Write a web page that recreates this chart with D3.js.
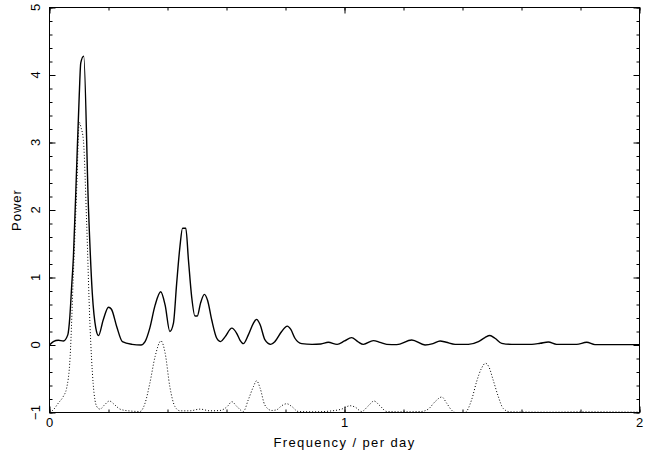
<!DOCTYPE html>
<html>
<head>
<meta charset="utf-8">
<script src="https://cdn.jsdelivr.net/npm/d3@7"></script>
<style>
  body { margin: 0; background: #fff; }
  text { font-family: "Liberation Sans", Arial, sans-serif; fill: #000; }
</style>
</head>
<body>
<svg id="chart" width="657" height="460"></svg>
<script>
// periodogram (solid) - frequency and power
const powerFreq = [0, 0.013, 0.03, 0.047, 0.062, 0.069, 0.075, 0.081, 0.092, 0.101, 0.106, 0.116, 0.132, 0.145, 0.157, 0.166, 0.182, 0.2, 0.21, 0.228, 0.247, 0.28, 0.31, 0.324, 0.34, 0.358, 0.377, 0.392, 0.408, 0.42, 0.431, 0.442, 0.451, 0.462, 0.471, 0.482, 0.493, 0.501, 0.512, 0.525, 0.536, 0.55, 0.567, 0.58, 0.595, 0.618, 0.635, 0.646, 0.657, 0.674, 0.691, 0.702, 0.714, 0.73, 0.75, 0.764, 0.787, 0.806, 0.818, 0.832, 0.855, 0.89, 0.92, 0.945, 0.975, 1.0, 1.024, 1.045, 1.064, 1.098, 1.12, 1.143, 1.177, 1.228, 1.273, 1.3, 1.324, 1.345, 1.375, 1.42, 1.454, 1.476, 1.493, 1.51, 1.533, 1.567, 1.635, 1.663, 1.691, 1.719, 1.787, 1.821, 1.849, 1.9, 2.0];
const powerVals = [0, 0.05, 0.07, 0.06, 0.15, 0.42, 0.86, 1.3, 2.63, 3.72, 4.18, 4.28, 2.04, 0.77, 0.25, 0.14, 0.37, 0.56, 0.53, 0.27, 0.05, 0.01, 0.0, 0.05, 0.25, 0.59, 0.79, 0.59, 0.2, 0.32, 0.91, 1.45, 1.73, 1.73, 1.26, 0.71, 0.43, 0.43, 0.62, 0.75, 0.66, 0.37, 0.1, 0.05, 0.12, 0.25, 0.17, 0.07, 0.02, 0.15, 0.32, 0.38, 0.3, 0.08, 0.01, 0.05, 0.2, 0.28, 0.23, 0.1, 0.02, 0.01, 0.015, 0.04, 0.01, 0.06, 0.11, 0.05, 0.01, 0.065, 0.04, 0.01, 0.005, 0.075, 0.0, 0.02, 0.06, 0.04, 0.01, 0.01, 0.05, 0.11, 0.14, 0.1, 0.025, 0.01, 0.01, 0.025, 0.045, 0.01, 0.01, 0.04, 0.005, 0.005, 0.005];

// window function (dotted), drawn offset down by one unit
const windowFreq = [0, 0.013, 0.03, 0.047, 0.058, 0.07, 0.081, 0.092, 0.101, 0.107, 0.115, 0.126, 0.137, 0.148, 0.16, 0.171, 0.186, 0.203, 0.222, 0.239, 0.267, 0.307, 0.324, 0.34, 0.358, 0.378, 0.392, 0.408, 0.425, 0.442, 0.476, 0.51, 0.544, 0.578, 0.603, 0.618, 0.635, 0.657, 0.674, 0.691, 0.702, 0.714, 0.73, 0.753, 0.77, 0.787, 0.804, 0.821, 0.843, 0.9, 0.968, 0.99, 1.019, 1.036, 1.058, 1.081, 1.1, 1.12, 1.143, 1.2, 1.26, 1.284, 1.307, 1.33, 1.346, 1.362, 1.375, 1.408, 1.431, 1.448, 1.465, 1.478, 1.489, 1.504, 1.521, 1.538, 1.561, 1.7, 1.8, 2.0];
const windowVals = [-1, -0.96, -0.86, -0.76, -0.64, -0.17, 1.06, 2.29, 3.3, 3.22, 3.03, 1.8, 0.32, -0.57, -0.91, -0.95, -0.89, -0.83, -0.89, -0.95, -0.975, -0.985, -0.86, -0.57, -0.17, 0.06, -0.12, -0.62, -0.91, -0.975, -0.975, -0.95, -0.975, -0.97, -0.91, -0.84, -0.91, -0.985, -0.81, -0.62, -0.53, -0.64, -0.89, -0.97, -0.96, -0.9, -0.87, -0.91, -0.985, -0.99, -0.97, -0.95, -0.9, -0.92, -0.985, -0.9, -0.83, -0.9, -0.985, -0.99, -0.985, -0.95, -0.84, -0.77, -0.86, -0.96, -1, -1, -0.81, -0.54, -0.34, -0.27, -0.32, -0.52, -0.76, -0.94, -0.99, -0.995, -0.99, -0.995];

const xTicks = [0, 1, 2];
const yTicks = [-1, 0, 1, 2, 3, 4, 5];

const svg = d3.select("#chart");
const mLeft = 49.5, mRight = 639.5, mTop = 7.5, mBottom = 412.5;

const x = d3.scaleLinear().domain([0, 2]).range([mLeft, mRight]);
const y = d3.scaleLinear().domain([-1, 5]).range([mBottom, mTop]);

const xMinor = d3.range(0, 2.0001, 0.2);
const yMinor = d3.range(-1, 5.0001, 0.2);

// ticks on all four sides, pointing inward (major + minor)
function ticks(axis, vals, size, tr) {
  svg.append("g")
    .attr("transform", tr)
    .call(axis.tickValues(vals).tickSize(-size).tickFormat(""))
    .call(g => g.select(".domain").remove())
    .selectAll("line").attr("stroke", "#000");
}
ticks(d3.axisBottom(x), xMinor, 3, `translate(0,${mBottom})`);
ticks(d3.axisBottom(x), xTicks, 6, `translate(0,${mBottom})`);
ticks(d3.axisTop(x), xMinor, 3, `translate(0,${mTop})`);
ticks(d3.axisTop(x), xTicks, 6, `translate(0,${mTop})`);
ticks(d3.axisLeft(y), yMinor, 3, `translate(${mLeft},0)`);
ticks(d3.axisLeft(y), yTicks, 6, `translate(${mLeft},0)`);
ticks(d3.axisRight(y), yMinor, 3, `translate(${mRight},0)`);
ticks(d3.axisRight(y), yTicks, 6, `translate(${mRight},0)`);

// frame
svg.append("rect")
  .attr("x", mLeft).attr("y", mTop)
  .attr("width", mRight - mLeft).attr("height", mBottom - mTop)
  .attr("fill", "none").attr("stroke", "#000");

// tick labels
svg.selectAll(".xl").data(xTicks).join("text")
  .attr("x", d => x(d)).attr("y", 427)
  .attr("text-anchor", "middle").attr("font-size", 13)
  .text(d => d);

svg.selectAll(".yl").data(yTicks).join("text")
  .attr("transform", d => `translate(40,${y(d)}) rotate(-90)`)
  .attr("text-anchor", "middle").attr("font-size", 13)
  .text(d => d < 0 ? "\u2212" + Math.abs(d) : d);

// axis titles
svg.append("text")
  .attr("x", x(1)).attr("y", 447)
  .attr("text-anchor", "middle").attr("font-size", 13)
  .attr("letter-spacing", 1.4)
  .text("Frequency / per day");

svg.append("text")
  .attr("transform", `translate(21,${y(2)}) rotate(-90)`)
  .attr("text-anchor", "middle").attr("font-size", 13)
  .attr("letter-spacing", 1)
  .text("Power");

// curves
const line = d3.line()
  .x(d => x(d[0])).y(d => y(d[1]))
  .curve(d3.curveMonotoneX);

svg.append("path")
  .datum(d3.zip(windowFreq, windowVals))
  .attr("d", line)
  .attr("fill", "none").attr("stroke", "#000")
  .attr("stroke-width", 1).attr("stroke-dasharray", "1,2");

svg.append("path")
  .datum(d3.zip(powerFreq, powerVals))
  .attr("d", line)
  .attr("fill", "none").attr("stroke", "#000")
  .attr("stroke-width", 1.4);
</script>
</body>
</html>
